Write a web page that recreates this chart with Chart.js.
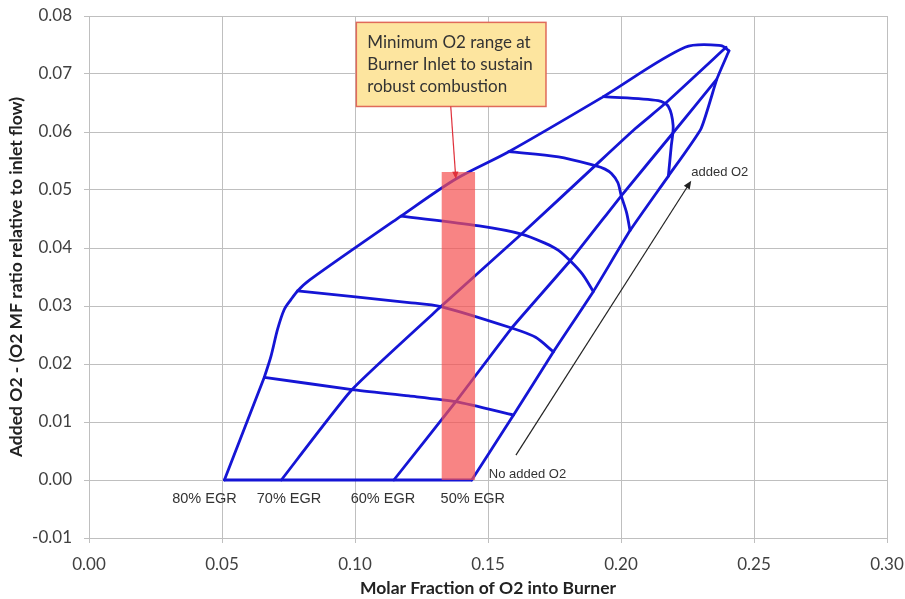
<!DOCTYPE html>
<html>
<head>
<meta charset="utf-8">
<script src="https://cdn.jsdelivr.net/npm/chart.js@4.4.1/dist/chart.umd.min.js"></script>
<style>
  html, body { margin: 0; padding: 0; background: #fff; }
</style>
</head>
<body>
<canvas id="c" width="905" height="599"></canvas>
<script>
// axis ticks
const xTicks = [0, 0.05, 0.10, 0.15, 0.20, 0.25, 0.30];
const yTicks = [-0.01, 0, 0.01, 0.02, 0.03, 0.04, 0.05, 0.06, 0.07, 0.08];

// constant EGR lines [O2 fraction, added O2]
const egr80Low = [[0.0509, 0], [0.0659, 0.0177]];
const egr80 = [[0.0659, 0.0177], [0.0684, 0.0213], [0.0709, 0.0260], [0.0734, 0.0294], [0.0759, 0.0311],
  [0.0784, 0.0326], [0.0830, 0.0345], [0.1173, 0.0455], [0.1379, 0.0519],
  [0.1578, 0.0566], [0.1934, 0.0661], [0.2241, 0.0746], [0.2376, 0.0749], [0.2406, 0.0740]];
const egr70 = [[0.0723, 0], [0.0989, 0.0156], [0.1323, 0.0299], [0.1626, 0.0424], [0.1903, 0.0542],
  [0.2054, 0.0606], [0.2166, 0.0649], [0.2395, 0.0746]];
const egr60 = [[0.1146, 0], [0.1379, 0.0135], [0.1589, 0.0262], [0.1809, 0.0378], [0.2001, 0.0490],
  [0.2193, 0.0597], [0.2358, 0.0690]];
const egr50 = [[0.1439, 0], [0.1596, 0.0112], [0.1746, 0.0221], [0.1896, 0.0325], [0.2034, 0.0430],
  [0.2178, 0.0524], [0.2301, 0.0606], [0.2361, 0.0692], [0.2406, 0.0740]];
const noAdded = [[0.0509, 0], [0.1439, 0]];

// cross lines (equal added O2 steps)
const lvA = [[0.0659, 0.0177], [0.0989, 0.0156], [0.1203, 0.0145], [0.1379, 0.0135], [0.1596, 0.0112]];
const lvB = [[0.0784, 0.0326], [0.1203, 0.0306], [0.1323, 0.0299], [0.1589, 0.0262], [0.1679, 0.0246], [0.1746, 0.0221]];
const lvC = [[0.1173, 0.0455], [0.1467, 0.0438], [0.1626, 0.0424], [0.1716, 0.0408], [0.1765, 0.0396],
  [0.1809, 0.0378], [0.1855, 0.0355], [0.1896, 0.0325]];
const lvD = [[0.1578, 0.0566], [0.1765, 0.0557], [0.1903, 0.0542], [0.1940, 0.0536], [0.1965, 0.0528],
  [0.1988, 0.0513], [0.2001, 0.0490], [0.2021, 0.0461], [0.2034, 0.0430]];
const lvE = [[0.1934, 0.0661], [0.2140, 0.0654], [0.2178, 0.0644], [0.2196, 0.0611], [0.2189, 0.0576], [0.2178, 0.0524]];

// minimum O2 band
const bandX = [0.1325, 0.1452];
const bandTop = 0.0531;

const egrLabels = ['80% EGR', '70% EGR', '60% EGR', '50% EGR'];
const egrLabelX = [0.0434, 0.0752, 0.1105, 0.1443];
const egrLabelY = -0.0033;

const boxLines = ['Minimum O2 range at', 'Burner Inlet to sustain', 'robust combustion'];

const blue = '#1515d5';
const pts = a => a.map(p => ({x: p[0], y: p[1]}));
const line = (d, t) => ({data: pts(d), showLine: true, borderColor: blue, borderWidth: 2.8,
  pointRadius: 0, tension: t, borderJoinStyle: 'round', borderCapStyle: 'round', order: 1});

function arrow(ctx, x1, y1, x2, y2, col, size) {
  const a = Math.atan2(y2 - y1, x2 - x1);
  ctx.strokeStyle = col; ctx.fillStyle = col; ctx.lineWidth = 1.2;
  ctx.beginPath(); ctx.moveTo(x1, y1);
  ctx.lineTo(x2 - Math.cos(a) * size * 0.8, y2 - Math.sin(a) * size * 0.8); ctx.stroke();
  ctx.beginPath(); ctx.moveTo(x2, y2);
  ctx.lineTo(x2 - size * Math.cos(a - 0.4), y2 - size * Math.sin(a - 0.4));
  ctx.lineTo(x2 - size * Math.cos(a + 0.4), y2 - size * Math.sin(a + 0.4));
  ctx.closePath(); ctx.fill();
}

const notes = {
  id: 'notes',
  afterDatasetsDraw(chart) {
    const {ctx, scales: {x, y}} = chart;
    ctx.save();
    // EGR labels
    ctx.font = '14.5px "Liberation Sans", Arial, sans-serif';
    ctx.fillStyle = '#333';
    ctx.textAlign = 'center'; ctx.textBaseline = 'middle';
    egrLabels.forEach((t, i) => ctx.fillText(t, x.getPixelForValue(egrLabelX[i]), y.getPixelForValue(egrLabelY)));
    ctx.font = '13px "Liberation Sans", Arial, sans-serif';
    ctx.textAlign = 'left';
    ctx.fillText('No added O2', x.getPixelForValue(0.1503), y.getPixelForValue(0.0010));
    ctx.fillText('added O2', x.getPixelForValue(0.2264), y.getPixelForValue(0.0531));
    arrow(ctx, x.getPixelForValue(0.1605), y.getPixelForValue(0.0043),
      x.getPixelForValue(0.2264), y.getPixelForValue(0.0516), '#222', 9);

    // callout box
    const bx0 = x.getPixelForValue(0.1005), bx1 = x.getPixelForValue(0.1718);
    const by0 = y.getPixelForValue(0.0789), by1 = y.getPixelForValue(0.0644);
    ctx.fillStyle = '#fde59f';
    ctx.fillRect(bx0, by0, bx1 - bx0, by1 - by0);
    ctx.strokeStyle = '#e06a5a'; ctx.lineWidth = 1.5;
    ctx.strokeRect(bx0, by0, bx1 - bx0, by1 - by0);
    ctx.fillStyle = '#333';
    ctx.font = '17px Lato, sans-serif';
    ctx.textAlign = 'left';
    boxLines.forEach((t, i) => ctx.fillText(t, bx0 + 11, by0 + 20 + i * 22));
    arrow(ctx, x.getPixelForValue(0.1360), by1, x.getPixelForValue(0.1379), y.getPixelForValue(0.0519), '#e0303a', 8);
    ctx.restore();
  }
};

new Chart(document.getElementById('c'), {
  type: 'scatter',
  data: {
    datasets: [
      {data: pts([[bandX[0], bandTop], [bandX[1], bandTop]]), showLine: true, borderWidth: 0,
        borderColor: 'rgba(0,0,0,0)', backgroundColor: 'rgba(245,80,80,0.7)', fill: 'origin',
        pointRadius: 0, order: 0},
      line(egr80Low, 0), line(egr80, 0.3), line(egr70, 0.15), line(egr60, 0.1), line(egr50, 0.15),
      line(noAdded, 0), line(lvA, 0.2), line(lvB, 0.25), line(lvC, 0.3), line(lvD, 0.3), line(lvE, 0.3)
    ]
  },
  options: {
    responsive: false,
    animation: false,
    layout: {padding: {top: 16, right: 18, left: 0, bottom: 0}},
    plugins: {legend: {display: false}, tooltip: {enabled: false}},
    scales: {
      x: {
        min: 0, max: 0.3,
        afterBuildTicks: s => { s.ticks = xTicks.map(v => ({value: v})); },
        afterFit: s => { s.height = 61; s.paddingLeft = 0; s.paddingRight = 0; },
        grid: {color: '#bfbfbf', tickLength: 5},
        border: {color: '#bfbfbf'},
        ticks: {color: '#404040', font: {family: 'Lato', size: 17}, padding: 11,
          callback: v => v.toFixed(2)},
        title: {display: true, text: 'Molar Fraction of O2 into Burner', color: '#222',
          font: {family: 'Lato', size: 17.5, weight: 'bold'}, padding: {top: 0, bottom: 0}}
      },
      y: {
        min: -0.01, max: 0.08,
        afterBuildTicks: s => { s.ticks = yTicks.map(v => ({value: v})); },
        afterFit: s => { s.width = 89; s.paddingTop = 0; s.paddingBottom = 0; },
        grid: {color: '#bfbfbf', tickLength: 5},
        border: {color: '#bfbfbf'},
        ticks: {color: '#404040', font: {family: 'Lato', size: 17}, padding: 12,
          callback: v => v.toFixed(2)},
        title: {display: true, text: 'Added O2 - (O2 MF ratio relative to inlet flow)', color: '#222',
          font: {family: 'Lato', size: 17.5, weight: 'bold'}, padding: {top: 6, bottom: 0}}
      }
    }
  },
  plugins: [notes]
});
</script>
</body>
</html>
